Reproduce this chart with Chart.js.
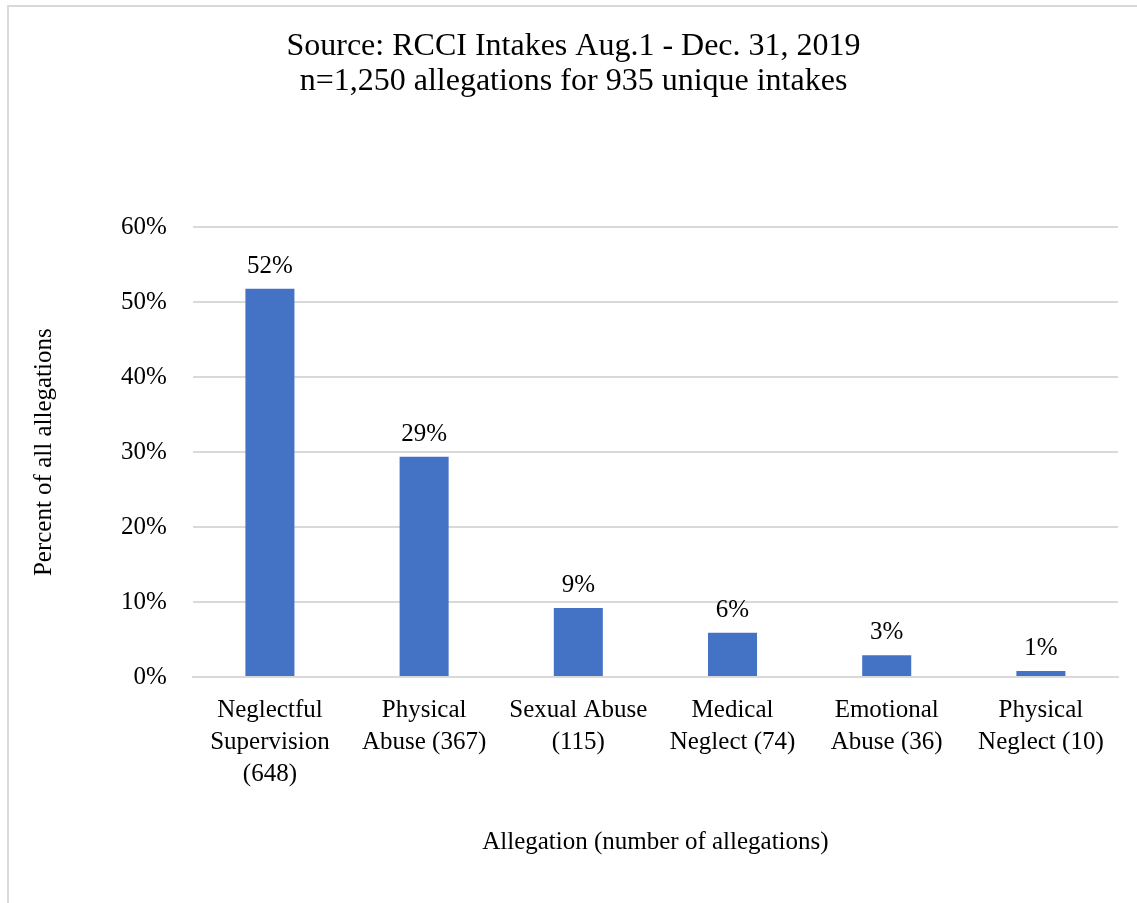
<!DOCTYPE html>
<html>
<head>
<meta charset="utf-8">
<script src="https://cdn.jsdelivr.net/npm/chart.js@4"></script>
<style>
  html, body { margin: 0; padding: 0; background: #fff; }
  #wrap { position: relative; width: 1137px; height: 903px; overflow: hidden; }
  #frame { position: absolute; left: 7px; top: 5px; width: 1200px; height: 1000px;
           border-left: 2px solid #d9d9d9; border-top: 2px solid #d9d9d9; }
  #allegationChart { position: absolute; left: 0; top: 0; }
</style>
</head>
<body>
<div id="wrap">
  <div id="frame"></div>
  <canvas id="allegationChart" width="1137" height="903"></canvas>
</div>
<script>
const titleLines = ['Source: RCCI Intakes Aug.1 - Dec. 31, 2019', 'n=1,250 allegations for 935 unique intakes'];
const categories = [
    ['Neglectful', 'Supervision', '(648)'],
    ['Physical', 'Abuse (367)'],
    ['Sexual Abuse', '(115)'],
    ['Medical', 'Neglect (74)'],
    ['Emotional', 'Abuse (36)'],
    ['Physical', 'Neglect (10)']
];
const percentValues = [51.8, 29.4, 9.2, 5.9, 2.9, 0.8];
const yTicks = [0, 10, 20, 30, 40, 50, 60];

const serif = "'Liberation Serif', 'Times New Roman', serif";
const barBlue = '#4472C4';

// draws the percent above each bar
const barLabels = {
    id: 'barLabels',
    afterDatasetsDraw(chart) {
        const ctx = chart.ctx;
        const meta = chart.getDatasetMeta(0);
        ctx.save();
        ctx.font = '25px ' + serif;
        ctx.fillStyle = '#000';
        ctx.textAlign = 'center';
        ctx.textBaseline = 'bottom';
        meta.data.forEach((bar, i) => {
            ctx.fillText(Math.round(percentValues[i]) + '%', bar.x, bar.y - 10);
        });
        ctx.restore();
    }
};

const allegationCanvas = document.getElementById('allegationChart').getContext('2d');
new Chart(allegationCanvas, {
    type: 'bar',
    data: {
        labels: categories,
        datasets: [{
            data: percentValues,
            backgroundColor: barBlue,
            barPercentage: 1,
            categoryPercentage: 0.318
        }]
    },
    options: {
        responsive: false,
        animation: false,
        layout: {
            padding: { top: 29, right: 19, bottom: 46, left: 29 }
        },
        plugins: {
            legend: { display: false },
            tooltip: { enabled: false },
            title: {
                display: true,
                text: titleLines,
                color: '#000',
                font: { family: serif, size: 32, weight: 'normal', lineHeight: 1.1 },
                padding: { top: 0, bottom: 128 }
            }
        },
        scales: {
            x: {
                grid: { display: false },
                border: { color: '#d9d9d9', width: 2 },
                ticks: {
                    color: '#000',
                    font: { family: serif, size: 25, lineHeight: 1.28 },
                    maxRotation: 0,
                    autoSkip: false,
                    padding: 9
                },
                title: {
                    display: true,
                    text: 'Allegation (number of allegations)',
                    color: '#000',
                    font: { family: serif, size: 25 },
                    padding: { top: 28, bottom: 0 }
                }
            },
            y: {
                min: 0,
                max: 60,
                afterBuildTicks(scale) {
                    scale.ticks = yTicks.map(v => ({ value: v }));
                },
                grid: { color: '#d9d9d9', lineWidth: 2, drawTicks: false },
                border: { display: false },
                ticks: {
                    color: '#000',
                    font: { family: serif, size: 25 },
                    padding: 26,
                    callback: v => v + '%'
                },
                title: {
                    display: true,
                    text: 'Percent of all allegations',
                    color: '#000',
                    font: { family: serif, size: 25 },
                    padding: { top: 0, bottom: 36 }
                }
            }
        }
    },
    plugins: [barLabels]
});
</script>
</body>
</html>
